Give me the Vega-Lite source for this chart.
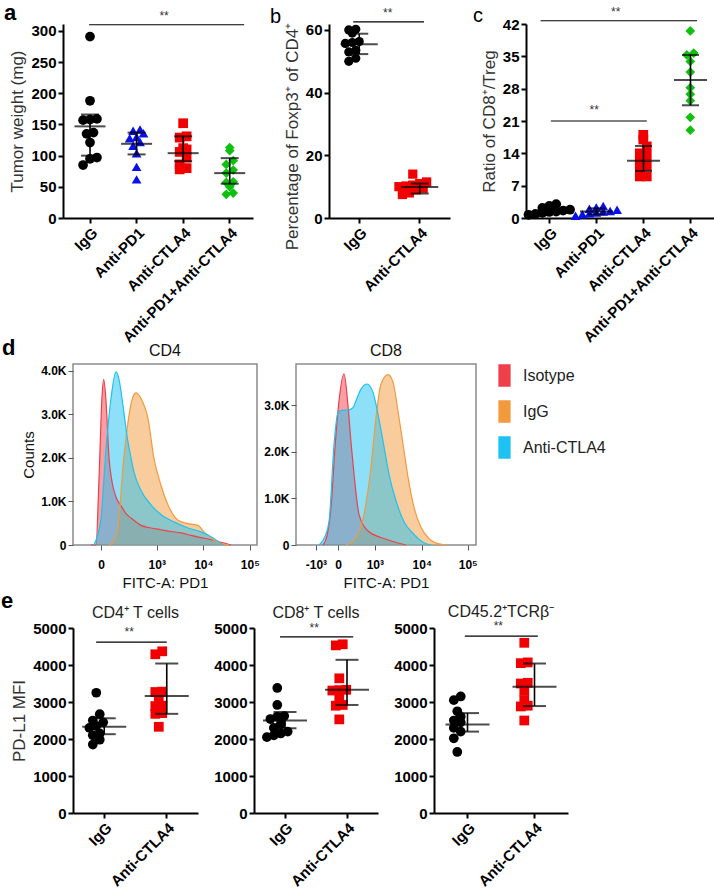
{
 "$schema": "https://vega.github.io/schema/vega-lite/v6.json",
 "padding": {"left": 1, "top": 2, "right": 0, "bottom": 0},
 "background": "white",
 "datasets": {
  "dots": [
   {"panel":"a","group":"IgG","value":291},{"panel":"a","group":"IgG","value":188},{"panel":"a","group":"IgG","value":159},{"panel":"a","group":"IgG","value":158},{"panel":"a","group":"IgG","value":157},{"panel":"a","group":"IgG","value":137},{"panel":"a","group":"IgG","value":135},{"panel":"a","group":"IgG","value":121},{"panel":"a","group":"IgG","value":97},{"panel":"a","group":"IgG","value":95},{"panel":"a","group":"IgG","value":85},
   {"panel":"a","group":"Anti-PD1","value":142},{"panel":"a","group":"Anti-PD1","value":140},{"panel":"a","group":"Anti-PD1","value":136},{"panel":"a","group":"Anti-PD1","value":130},{"panel":"a","group":"Anti-PD1","value":128},{"panel":"a","group":"Anti-PD1","value":122},{"panel":"a","group":"Anti-PD1","value":116},{"panel":"a","group":"Anti-PD1","value":104},{"panel":"a","group":"Anti-PD1","value":82},{"panel":"a","group":"Anti-PD1","value":62},
   {"panel":"a","group":"Anti-CTLA4","value":152},{"panel":"a","group":"Anti-CTLA4","value":131},{"panel":"a","group":"Anti-CTLA4","value":129},{"panel":"a","group":"Anti-CTLA4","value":112},{"panel":"a","group":"Anti-CTLA4","value":110},{"panel":"a","group":"Anti-CTLA4","value":106},{"panel":"a","group":"Anti-CTLA4","value":97},{"panel":"a","group":"Anti-CTLA4","value":86},{"panel":"a","group":"Anti-CTLA4","value":80},{"panel":"a","group":"Anti-CTLA4","value":78},
   {"panel":"a","group":"Anti-PD1+Anti-CTLA4","value":113},{"panel":"a","group":"Anti-PD1+Anti-CTLA4","value":108},{"panel":"a","group":"Anti-PD1+Anti-CTLA4","value":92},{"panel":"a","group":"Anti-PD1+Anti-CTLA4","value":86},{"panel":"a","group":"Anti-PD1+Anti-CTLA4","value":77},{"panel":"a","group":"Anti-PD1+Anti-CTLA4","value":72},{"panel":"a","group":"Anti-PD1+Anti-CTLA4","value":58},{"panel":"a","group":"Anti-PD1+Anti-CTLA4","value":57},{"panel":"a","group":"Anti-PD1+Anti-CTLA4","value":50},{"panel":"a","group":"Anti-PD1+Anti-CTLA4","value":40},{"panel":"a","group":"Anti-PD1+Anti-CTLA4","value":38},
   {"panel":"b","group":"IgG","value":60.2},{"panel":"b","group":"IgG","value":60},{"panel":"b","group":"IgG","value":59},{"panel":"b","group":"IgG","value":56.3},{"panel":"b","group":"IgG","value":56},{"panel":"b","group":"IgG","value":55.7},{"panel":"b","group":"IgG","value":53.5},{"panel":"b","group":"IgG","value":53},{"panel":"b","group":"IgG","value":51},{"panel":"b","group":"IgG","value":50},
   {"panel":"b","group":"Anti-CTLA4","value":14},{"panel":"b","group":"Anti-CTLA4","value":11.5},{"panel":"b","group":"Anti-CTLA4","value":11},{"panel":"b","group":"Anti-CTLA4","value":10.5},{"panel":"b","group":"Anti-CTLA4","value":10.2},{"panel":"b","group":"Anti-CTLA4","value":10},{"panel":"b","group":"Anti-CTLA4","value":9.5},{"panel":"b","group":"Anti-CTLA4","value":9},{"panel":"b","group":"Anti-CTLA4","value":8},{"panel":"b","group":"Anti-CTLA4","value":7.5},
   {"panel":"c","group":"IgG","value":3},{"panel":"c","group":"IgG","value":2.6},{"panel":"c","group":"IgG","value":2.2},{"panel":"c","group":"IgG","value":1.8},{"panel":"c","group":"IgG","value":1.6},{"panel":"c","group":"IgG","value":1.4},{"panel":"c","group":"IgG","value":1.3},{"panel":"c","group":"IgG","value":1.1},{"panel":"c","group":"IgG","value":0.9},{"panel":"c","group":"IgG","value":0.7},
   {"panel":"c","group":"Anti-PD1","value":2.6},{"panel":"c","group":"Anti-PD1","value":2.3},{"panel":"c","group":"Anti-PD1","value":2.0},{"panel":"c","group":"Anti-PD1","value":1.8},{"panel":"c","group":"Anti-PD1","value":1.5},{"panel":"c","group":"Anti-PD1","value":1.4},{"panel":"c","group":"Anti-PD1","value":1.2},{"panel":"c","group":"Anti-PD1","value":1.0},{"panel":"c","group":"Anti-PD1","value":0.8},{"panel":"c","group":"Anti-PD1","value":0.5},
   {"panel":"c","group":"Anti-CTLA4","value":18},{"panel":"c","group":"Anti-CTLA4","value":17},{"panel":"c","group":"Anti-CTLA4","value":15.5},{"panel":"c","group":"Anti-CTLA4","value":14},{"panel":"c","group":"Anti-CTLA4","value":13.5},{"panel":"c","group":"Anti-CTLA4","value":12.5},{"panel":"c","group":"Anti-CTLA4","value":11.3},{"panel":"c","group":"Anti-CTLA4","value":11},{"panel":"c","group":"Anti-CTLA4","value":9},{"panel":"c","group":"Anti-CTLA4","value":9},
   {"panel":"c","group":"Anti-PD1+Anti-CTLA4","value":40.5},{"panel":"c","group":"Anti-PD1+Anti-CTLA4","value":35.7},{"panel":"c","group":"Anti-PD1+Anti-CTLA4","value":35.3},{"panel":"c","group":"Anti-PD1+Anti-CTLA4","value":33.9},{"panel":"c","group":"Anti-PD1+Anti-CTLA4","value":31.6},{"panel":"c","group":"Anti-PD1+Anti-CTLA4","value":28.2},{"panel":"c","group":"Anti-PD1+Anti-CTLA4","value":26.8},{"panel":"c","group":"Anti-PD1+Anti-CTLA4","value":25.4},{"panel":"c","group":"Anti-PD1+Anti-CTLA4","value":21.8},{"panel":"c","group":"Anti-PD1+Anti-CTLA4","value":19},
   {"panel":"e1","group":"IgG","value":3250},{"panel":"e1","group":"IgG","value":2670},{"panel":"e1","group":"IgG","value":2500},{"panel":"e1","group":"IgG","value":2450},{"panel":"e1","group":"IgG","value":2350},{"panel":"e1","group":"IgG","value":2300},{"panel":"e1","group":"IgG","value":2150},{"panel":"e1","group":"IgG","value":2100},{"panel":"e1","group":"IgG","value":1980},{"panel":"e1","group":"IgG","value":1850},
   {"panel":"e1","group":"Anti-CTLA4","value":4370},{"panel":"e1","group":"Anti-CTLA4","value":4290},{"panel":"e1","group":"Anti-CTLA4","value":3280},{"panel":"e1","group":"Anti-CTLA4","value":3270},{"panel":"e1","group":"Anti-CTLA4","value":3060},{"panel":"e1","group":"Anti-CTLA4","value":2900},{"panel":"e1","group":"Anti-CTLA4","value":2890},{"panel":"e1","group":"Anti-CTLA4","value":2700},{"panel":"e1","group":"Anti-CTLA4","value":2680},{"panel":"e1","group":"Anti-CTLA4","value":2330},
   {"panel":"e2","group":"IgG","value":3380},{"panel":"e2","group":"IgG","value":2920},{"panel":"e2","group":"IgG","value":2620},{"panel":"e2","group":"IgG","value":2600},{"panel":"e2","group":"IgG","value":2540},{"panel":"e2","group":"IgG","value":2400},{"panel":"e2","group":"IgG","value":2300},{"panel":"e2","group":"IgG","value":2200},{"panel":"e2","group":"IgG","value":2150},{"panel":"e2","group":"IgG","value":2100},{"panel":"e2","group":"IgG","value":2050},
   {"panel":"e2","group":"Anti-CTLA4","value":4560},{"panel":"e2","group":"Anti-CTLA4","value":4530},{"panel":"e2","group":"Anti-CTLA4","value":3640},{"panel":"e2","group":"Anti-CTLA4","value":3330},{"panel":"e2","group":"Anti-CTLA4","value":3320},{"panel":"e2","group":"Anti-CTLA4","value":3310},{"panel":"e2","group":"Anti-CTLA4","value":3080},{"panel":"e2","group":"Anti-CTLA4","value":2920},{"panel":"e2","group":"Anti-CTLA4","value":2900},{"panel":"e2","group":"Anti-CTLA4","value":2530},
   {"panel":"e3","group":"IgG","value":3150},{"panel":"e3","group":"IgG","value":3050},{"panel":"e3","group":"IgG","value":2750},{"panel":"e3","group":"IgG","value":2600},{"panel":"e3","group":"IgG","value":2500},{"panel":"e3","group":"IgG","value":2450},{"panel":"e3","group":"IgG","value":2300},{"panel":"e3","group":"IgG","value":2200},{"panel":"e3","group":"IgG","value":2020},{"panel":"e3","group":"IgG","value":1650},
   {"panel":"e3","group":"Anti-CTLA4","value":4600},{"panel":"e3","group":"Anti-CTLA4","value":4070},{"panel":"e3","group":"Anti-CTLA4","value":4050},{"panel":"e3","group":"Anti-CTLA4","value":3520},{"panel":"e3","group":"Anti-CTLA4","value":3500},{"panel":"e3","group":"Anti-CTLA4","value":3300},{"panel":"e3","group":"Anti-CTLA4","value":3050},{"panel":"e3","group":"Anti-CTLA4","value":2900},{"panel":"e3","group":"Anti-CTLA4","value":2880},{"panel":"e3","group":"Anti-CTLA4","value":2500}
  ],
  "bars": [
   {"panel":"a","group":"IgG","mean":147,"lo":100,"hi":166},{"panel":"a","group":"Anti-PD1","mean":119,"lo":102,"hi":137},{"panel":"a","group":"Anti-CTLA4","mean":104,"lo":91,"hi":131},{"panel":"a","group":"Anti-PD1+Anti-CTLA4","mean":72,"lo":55,"hi":96},
   {"panel":"b","group":"IgG","mean":55.4,"lo":52.3,"hi":58.8},{"panel":"b","group":"Anti-CTLA4","mean":9.9,"lo":7.8,"hi":11},
   {"panel":"c","group":"IgG","mean":1.5,"lo":1,"hi":2},{"panel":"c","group":"Anti-PD1","mean":1.4,"lo":0.8,"hi":2.1},{"panel":"c","group":"Anti-CTLA4","mean":12.4,"lo":10.2,"hi":15.6},{"panel":"c","group":"Anti-PD1+Anti-CTLA4","mean":29.9,"lo":24.4,"hi":35.3},
   {"panel":"e1","group":"IgG","mean":2330,"lo":2130,"hi":2560},{"panel":"e1","group":"Anti-CTLA4","mean":3160,"lo":2680,"hi":4040},
   {"panel":"e2","group":"IgG","mean":2500,"lo":2290,"hi":2730},{"panel":"e2","group":"Anti-CTLA4","mean":3330,"lo":2920,"hi":4140},
   {"panel":"e3","group":"IgG","mean":2390,"lo":2200,"hi":2700},{"panel":"e3","group":"Anti-CTLA4","mean":3410,"lo":2890,"hi":4040}
  ],
  "hist": [
   {"panel":"CD4","sample":"Isotype","u":-0.215,"count":0},{"panel":"CD4","sample":"Isotype","u":-0.108,"count":0},{"panel":"CD4","sample":"Isotype","u":-0.043,"count":1500},{"panel":"CD4","sample":"Isotype","u":0.022,"count":3400},{"panel":"CD4","sample":"Isotype","u":0.058,"count":3800},{"panel":"CD4","sample":"Isotype","u":0.108,"count":3300},{"panel":"CD4","sample":"Isotype","u":0.172,"count":2000},{"panel":"CD4","sample":"Isotype","u":0.237,"count":1450},{"panel":"CD4","sample":"Isotype","u":0.323,"count":1100},{"panel":"CD4","sample":"Isotype","u":0.43,"count":900},{"panel":"CD4","sample":"Isotype","u":0.538,"count":720},{"panel":"CD4","sample":"Isotype","u":0.645,"count":620},{"panel":"CD4","sample":"Isotype","u":0.86,"count":450},{"panel":"CD4","sample":"Isotype","u":1.075,"count":390},{"panel":"CD4","sample":"Isotype","u":1.29,"count":350},{"panel":"CD4","sample":"Isotype","u":1.505,"count":310},{"panel":"CD4","sample":"Isotype","u":1.72,"count":280},{"panel":"CD4","sample":"Isotype","u":1.935,"count":220},{"panel":"CD4","sample":"Isotype","u":2.151,"count":170},{"panel":"CD4","sample":"Isotype","u":2.366,"count":120},{"panel":"CD4","sample":"Isotype","u":2.581,"count":60},{"panel":"CD4","sample":"Isotype","u":2.796,"count":0},
   {"panel":"CD4","sample":"IgG","u":0.172,"count":0},{"panel":"CD4","sample":"IgG","u":0.28,"count":100},{"panel":"CD4","sample":"IgG","u":0.366,"count":400},{"panel":"CD4","sample":"IgG","u":0.473,"count":1800},{"panel":"CD4","sample":"IgG","u":0.581,"count":2820},{"panel":"CD4","sample":"IgG","u":0.688,"count":3400},{"panel":"CD4","sample":"IgG","u":0.753,"count":3490},{"panel":"CD4","sample":"IgG","u":0.86,"count":3360},{"panel":"CD4","sample":"IgG","u":1.011,"count":2900},{"panel":"CD4","sample":"IgG","u":1.14,"count":1980},{"panel":"CD4","sample":"IgG","u":1.29,"count":1370},{"panel":"CD4","sample":"IgG","u":1.441,"count":920},{"panel":"CD4","sample":"IgG","u":1.656,"count":570},{"panel":"CD4","sample":"IgG","u":1.871,"count":490},{"panel":"CD4","sample":"IgG","u":2.086,"count":450},{"panel":"CD4","sample":"IgG","u":2.215,"count":300},{"panel":"CD4","sample":"IgG","u":2.43,"count":110},{"panel":"CD4","sample":"IgG","u":2.645,"count":20},{"panel":"CD4","sample":"IgG","u":2.753,"count":0},
   {"panel":"CD4","sample":"Anti-CTLA4","u":-0.151,"count":0},{"panel":"CD4","sample":"Anti-CTLA4","u":-0.065,"count":250},{"panel":"CD4","sample":"Anti-CTLA4","u":0,"count":600},{"panel":"CD4","sample":"Anti-CTLA4","u":0.108,"count":2200},{"panel":"CD4","sample":"Anti-CTLA4","u":0.215,"count":3360},{"panel":"CD4","sample":"Anti-CTLA4","u":0.323,"count":3970},{"panel":"CD4","sample":"Anti-CTLA4","u":0.387,"count":3800},{"panel":"CD4","sample":"Anti-CTLA4","u":0.473,"count":3200},{"panel":"CD4","sample":"Anti-CTLA4","u":0.559,"count":2500},{"panel":"CD4","sample":"Anti-CTLA4","u":0.645,"count":2000},{"panel":"CD4","sample":"Anti-CTLA4","u":0.71,"count":1670},{"panel":"CD4","sample":"Anti-CTLA4","u":0.86,"count":1250},{"panel":"CD4","sample":"Anti-CTLA4","u":1.075,"count":920},{"panel":"CD4","sample":"Anti-CTLA4","u":1.29,"count":700},{"panel":"CD4","sample":"Anti-CTLA4","u":1.57,"count":530},{"panel":"CD4","sample":"Anti-CTLA4","u":1.849,"count":400},{"panel":"CD4","sample":"Anti-CTLA4","u":2.151,"count":300},{"panel":"CD4","sample":"Anti-CTLA4","u":2.43,"count":150},{"panel":"CD4","sample":"Anti-CTLA4","u":2.624,"count":0},
   {"panel":"CD8","sample":"Isotype","u":-0.326,"count":0},{"panel":"CD8","sample":"Isotype","u":-0.239,"count":200},{"panel":"CD8","sample":"Isotype","u":-0.152,"count":800},{"panel":"CD8","sample":"Isotype","u":-0.065,"count":2100},{"panel":"CD8","sample":"Isotype","u":0.022,"count":3100},{"panel":"CD8","sample":"Isotype","u":0.13,"count":3680},{"panel":"CD8","sample":"Isotype","u":0.217,"count":3000},{"panel":"CD8","sample":"Isotype","u":0.283,"count":2200},{"panel":"CD8","sample":"Isotype","u":0.348,"count":1520},{"panel":"CD8","sample":"Isotype","u":0.457,"count":660},{"panel":"CD8","sample":"Isotype","u":0.652,"count":300},{"panel":"CD8","sample":"Isotype","u":0.935,"count":160},{"panel":"CD8","sample":"Isotype","u":1.217,"count":70},{"panel":"CD8","sample":"Isotype","u":1.478,"count":0},
   {"panel":"CD8","sample":"IgG","u":0.174,"count":0},{"panel":"CD8","sample":"IgG","u":0.391,"count":150},{"panel":"CD8","sample":"IgG","u":0.565,"count":660},{"panel":"CD8","sample":"IgG","u":0.717,"count":1670},{"panel":"CD8","sample":"IgG","u":0.826,"count":2740},{"panel":"CD8","sample":"IgG","u":0.935,"count":3460},{"panel":"CD8","sample":"IgG","u":1.087,"count":3660},{"panel":"CD8","sample":"IgG","u":1.196,"count":3500},{"panel":"CD8","sample":"IgG","u":1.304,"count":2880},{"panel":"CD8","sample":"IgG","u":1.413,"count":2170},{"panel":"CD8","sample":"IgG","u":1.522,"count":1460},{"panel":"CD8","sample":"IgG","u":1.652,"count":810},{"panel":"CD8","sample":"IgG","u":1.804,"count":380},{"panel":"CD8","sample":"IgG","u":1.957,"count":160},{"panel":"CD8","sample":"IgG","u":2.174,"count":30},{"panel":"CD8","sample":"IgG","u":2.348,"count":0},
   {"panel":"CD8","sample":"Anti-CTLA4","u":-0.413,"count":0},{"panel":"CD8","sample":"Anti-CTLA4","u":-0.326,"count":100},{"panel":"CD8","sample":"Anti-CTLA4","u":-0.196,"count":500},{"panel":"CD8","sample":"Anti-CTLA4","u":-0.087,"count":2150},{"panel":"CD8","sample":"Anti-CTLA4","u":0,"count":2850},{"panel":"CD8","sample":"Anti-CTLA4","u":0.109,"count":2900},{"panel":"CD8","sample":"Anti-CTLA4","u":0.217,"count":2900},{"panel":"CD8","sample":"Anti-CTLA4","u":0.326,"count":2950},{"panel":"CD8","sample":"Anti-CTLA4","u":0.391,"count":3100},{"panel":"CD8","sample":"Anti-CTLA4","u":0.5,"count":3350},{"panel":"CD8","sample":"Anti-CTLA4","u":0.63,"count":3460},{"panel":"CD8","sample":"Anti-CTLA4","u":0.761,"count":3280},{"panel":"CD8","sample":"Anti-CTLA4","u":0.87,"count":2810},{"panel":"CD8","sample":"Anti-CTLA4","u":0.978,"count":2240},{"panel":"CD8","sample":"Anti-CTLA4","u":1.109,"count":1520},{"panel":"CD8","sample":"Anti-CTLA4","u":1.261,"count":950},{"panel":"CD8","sample":"Anti-CTLA4","u":1.435,"count":500},{"panel":"CD8","sample":"Anti-CTLA4","u":1.652,"count":230},{"panel":"CD8","sample":"Anti-CTLA4","u":1.87,"count":50},{"panel":"CD8","sample":"Anti-CTLA4","u":2.022,"count":0}
  ]
 },
 "vconcat": [
  {
   "vconcat": [
    {
     "hconcat": [
      {
       "width": 190, "height": 194,
       "title": {"text": "a", "anchor": "start", "frame": "group", "dx": -59, "dy": 19, "offset": 4, "fontSize": 22, "fontWeight": "bold", "color": "#000"},
       "layer": [
        {
         "data": {"name": "dots"},
         "transform": [
          {"filter": "datum.panel == 'a'"},
          {"bin": {"step": 14, "anchor": 0}, "field": "value", "as": "vb"},
          {"window": [{"op": "row_number", "as": "r"}], "groupby": ["group", "vb"], "sort": [{"field": "value"}]},
          {"joinaggregate": [{"op": "count", "as": "n"}], "groupby": ["group", "vb"]},
          {"calculate": "datum.r - (datum.n + 1) / 2", "as": "off"}
         ],
         "mark": {"type": "point", "filled": true, "size": 95, "opacity": 1},
         "encoding": {
          "x": {"field": "group", "type": "nominal", "sort": ["IgG","Anti-PD1","Anti-CTLA4","Anti-PD1+Anti-CTLA4"], "scale": {"domain": ["IgG","Anti-PD1","Anti-CTLA4","Anti-PD1+Anti-CTLA4"], "paddingInner": 0, "paddingOuter": 0.04, "align": 1}, "axis": {"title": null, "labelAngle": -45, "labelAlign": "right", "labelBaseline": "top"}},
          "xOffset": {"field": "off", "type": "quantitative", "scale": {"domain": [-2.33, 2.33]}},
          "y": {"field": "value", "type": "quantitative", "scale": {"domain": [0, 311.2], "nice": false}, "axis": {"values": [0,50,100,150,200,250,300], "title": "Tumor weight (mg)", "labelOverlap": false}},
          "color": {"field": "group", "type": "nominal", "scale": {"domain": ["IgG","Anti-PD1","Anti-CTLA4","Anti-PD1+Anti-CTLA4"], "range": ["#000000","#0a10e8","#f00000","#10c010"]}, "legend": null},
          "shape": {"field": "group", "type": "nominal", "scale": {"domain": ["IgG","Anti-PD1","Anti-CTLA4","Anti-PD1+Anti-CTLA4"], "range": ["circle","triangle-up","square","diamond"]}, "legend": null}
         }
        },
        {"data": {"name": "bars"}, "transform": [{"filter": "datum.panel == 'a'"}], "mark": {"type": "rule", "color": "#000", "strokeWidth": 1.6}, "encoding": {"x": {"field": "group", "type": "nominal"}, "y": {"field": "lo", "type": "quantitative", "axis": {"values": [0,50,100,150,200,250,300], "title": "Tumor weight (mg)", "labelOverlap": false}}, "y2": {"field": "hi"}}},
        {"data": {"name": "bars"}, "transform": [{"filter": "datum.panel == 'a'"}], "mark": {"type": "tick", "color": "#000", "thickness": 2, "size": 31}, "encoding": {"x": {"field": "group", "type": "nominal"}, "y": {"field": "mean", "type": "quantitative", "axis": {"values": [0,50,100,150,200,250,300], "title": "Tumor weight (mg)", "labelOverlap": false}}}},
        {"data": {"name": "bars"}, "transform": [{"filter": "datum.panel == 'a'"}, {"fold": ["lo", "hi"], "as": ["end", "level"]}], "mark": {"type": "tick", "color": "#000", "thickness": 2, "size": 18}, "encoding": {"x": {"field": "group", "type": "nominal"}, "y": {"field": "level", "type": "quantitative", "axis": {"values": [0,50,100,150,200,250,300], "title": "Tumor weight (mg)", "labelOverlap": false}}}},
        {"data": {"values": [{}]}, "mark": {"type": "rule", "color": "#000", "strokeWidth": 1.2}, "encoding": {"x": {"datum": "IgG", "type": "nominal", "bandPosition": 0.48}, "x2": {"datum": "Anti-PD1+Anti-CTLA4", "bandPosition": 0.81}, "y": {"datum": 310, "type": "quantitative", "axis": {"values": [0,50,100,150,200,250,300], "title": "Tumor weight (mg)", "labelOverlap": false}}}},
        {"data": {"values": [{}]}, "mark": {"type": "text", "text": "**", "fontSize": 12, "color": "#333", "align": "center", "baseline": "middle"}, "encoding": {"x": {"datum": "Anti-CTLA4", "type": "nominal", "bandPosition": 0.09}, "y": {"datum": 324, "type": "quantitative", "axis": {"values": [0,50,100,150,200,250,300], "title": "Tumor weight (mg)", "labelOverlap": false}}}}
       ]
      },
      {
       "width": 121, "height": 194,
       "title": {"text": "b", "anchor": "start", "frame": "group", "dx": -59, "dy": 24, "offset": 4, "fontSize": 20, "fontWeight": "normal", "color": "#000"},
       "layer": [
        {
         "data": {"name": "dots"},
         "transform": [
          {"filter": "datum.panel == 'b'"},
          {"bin": {"step": 2.5, "anchor": 0}, "field": "value", "as": "vb"},
          {"window": [{"op": "row_number", "as": "r"}], "groupby": ["group", "vb"], "sort": [{"field": "value"}]},
          {"joinaggregate": [{"op": "count", "as": "n"}], "groupby": ["group", "vb"]},
          {"calculate": "datum.r - (datum.n + 1) / 2", "as": "off"}
         ],
         "mark": {"type": "point", "filled": true, "size": 85, "opacity": 1},
         "encoding": {
          "x": {"field": "group", "type": "nominal", "sort": ["IgG","Anti-CTLA4"], "scale": {"domain": ["IgG","Anti-CTLA4"], "paddingInner": 0, "paddingOuter": 0}, "axis": {"title": null, "labelAngle": -45, "labelAlign": "right", "labelBaseline": "top"}},
          "xOffset": {"field": "off", "type": "quantitative", "scale": {"domain": [-3.36, 3.36]}},
          "y": {"field": "value", "type": "quantitative", "scale": {"domain": [0, 61.9], "nice": false}, "axis": {"values": [0,20,40,60], "title": "Percentage of Foxp3⁺ of CD4⁺", "titleY": 112, "labelOverlap": false}},
          "color": {"field": "group", "type": "nominal", "scale": {"domain": ["IgG","Anti-PD1","Anti-CTLA4","Anti-PD1+Anti-CTLA4"], "range": ["#000000","#0a10e8","#f00000","#10c010"]}, "legend": null},
          "shape": {"field": "group", "type": "nominal", "scale": {"domain": ["IgG","Anti-PD1","Anti-CTLA4","Anti-PD1+Anti-CTLA4"], "range": ["circle","triangle-up","square","diamond"]}, "legend": null}
         }
        },
        {"data": {"name": "bars"}, "transform": [{"filter": "datum.panel == 'b'"}], "mark": {"type": "rule", "color": "#000", "strokeWidth": 1.6}, "encoding": {"x": {"field": "group", "type": "nominal"}, "y": {"field": "lo", "type": "quantitative", "axis": {"values": [0,20,40,60], "title": "Percentage of Foxp3⁺ of CD4⁺", "titleY": 112, "labelOverlap": false}}, "y2": {"field": "hi"}}},
        {"data": {"name": "bars"}, "transform": [{"filter": "datum.panel == 'b'"}], "mark": {"type": "tick", "color": "#000", "thickness": 2, "size": 37}, "encoding": {"x": {"field": "group", "type": "nominal"}, "y": {"field": "mean", "type": "quantitative", "axis": {"values": [0,20,40,60], "title": "Percentage of Foxp3⁺ of CD4⁺", "titleY": 112, "labelOverlap": false}}}},
        {"data": {"name": "bars"}, "transform": [{"filter": "datum.panel == 'b'"}, {"fold": ["lo", "hi"], "as": ["end", "level"]}], "mark": {"type": "tick", "color": "#000", "thickness": 2, "size": 18}, "encoding": {"x": {"field": "group", "type": "nominal"}, "y": {"field": "level", "type": "quantitative", "axis": {"values": [0,20,40,60], "title": "Percentage of Foxp3⁺ of CD4⁺", "titleY": 112, "labelOverlap": false}}}},
        {"data": {"values": [{}]}, "mark": {"type": "rule", "color": "#000", "strokeWidth": 1.2}, "encoding": {"x": {"datum": "IgG", "type": "nominal", "bandPosition": 0.4}, "x2": {"datum": "Anti-CTLA4", "bandPosition": 0.57}, "y": {"datum": 62.6, "type": "quantitative", "axis": {"values": [0,20,40,60], "title": "Percentage of Foxp3⁺ of CD4⁺", "titleY": 112, "labelOverlap": false}}}},
        {"data": {"values": [{}]}, "mark": {"type": "text", "text": "**", "fontSize": 12, "color": "#333", "align": "center", "baseline": "middle"}, "encoding": {"x": {"datum": "IgG", "type": "nominal", "bandPosition": 0.97}, "y": {"datum": 65.5, "type": "quantitative", "axis": {"values": [0,20,40,60], "title": "Percentage of Foxp3⁺ of CD4⁺", "titleY": 112, "labelOverlap": false}}}}
       ]
      },
      {
       "width": 188, "height": 194,
       "title": {"text": "c", "anchor": "start", "frame": "group", "dx": -53, "dy": 24, "offset": 4, "fontSize": 20, "fontWeight": "normal", "color": "#000"},
       "layer": [
        {
         "data": {"name": "dots"},
         "transform": [
          {"filter": "datum.panel == 'c'"},
          {"bin": {"step": 2, "anchor": 0}, "field": "value", "as": "vb"},
          {"window": [{"op": "row_number", "as": "r"}], "groupby": ["group", "vb"], "sort": [{"field": "value"}]},
          {"joinaggregate": [{"op": "count", "as": "n"}], "groupby": ["group", "vb"]},
          {"calculate": "datum.r - (datum.n + 1) / 2", "as": "off"}
         ],
         "mark": {"type": "point", "filled": true, "size": 95, "opacity": 1},
         "encoding": {
          "x": {"field": "group", "type": "nominal", "sort": ["IgG","Anti-PD1","Anti-CTLA4","Anti-PD1+Anti-CTLA4"], "scale": {"domain": ["IgG","Anti-PD1","Anti-CTLA4","Anti-PD1+Anti-CTLA4"], "paddingInner": 0, "paddingOuter": 0}, "axis": {"title": null, "labelAngle": -45, "labelAlign": "right", "labelBaseline": "top"}},
          "xOffset": {"field": "off", "type": "quantitative", "scale": {"domain": [-2.35, 2.35]}},
          "y": {"field": "value", "type": "quantitative", "scale": {"domain": [0, 42], "nice": false}, "axis": {"values": [0,7,14,21,28,35,42], "title": "Ratio of CD8⁺/Treg", "labelOverlap": false}},
          "color": {"field": "group", "type": "nominal", "scale": {"domain": ["IgG","Anti-PD1","Anti-CTLA4","Anti-PD1+Anti-CTLA4"], "range": ["#000000","#0a10e8","#f00000","#10c010"]}, "legend": null},
          "shape": {"field": "group", "type": "nominal", "scale": {"domain": ["IgG","Anti-PD1","Anti-CTLA4","Anti-PD1+Anti-CTLA4"], "range": ["circle","triangle-up","square","diamond"]}, "legend": null}
         }
        },
        {"data": {"name": "bars"}, "transform": [{"filter": "datum.panel == 'c'"}], "mark": {"type": "rule", "color": "#000", "strokeWidth": 1.6}, "encoding": {"x": {"field": "group", "type": "nominal"}, "y": {"field": "lo", "type": "quantitative", "axis": {"values": [0,7,14,21,28,35,42], "title": "Ratio of CD8⁺/Treg", "labelOverlap": false}}, "y2": {"field": "hi"}}},
        {"data": {"name": "bars"}, "transform": [{"filter": "datum.panel == 'c'"}], "mark": {"type": "tick", "color": "#000", "thickness": 2, "size": 33}, "encoding": {"x": {"field": "group", "type": "nominal"}, "y": {"field": "mean", "type": "quantitative", "axis": {"values": [0,7,14,21,28,35,42], "title": "Ratio of CD8⁺/Treg", "labelOverlap": false}}}},
        {"data": {"name": "bars"}, "transform": [{"filter": "datum.panel == 'c'"}, {"fold": ["lo", "hi"], "as": ["end", "level"]}], "mark": {"type": "tick", "color": "#000", "thickness": 2, "size": 17}, "encoding": {"x": {"field": "group", "type": "nominal"}, "y": {"field": "level", "type": "quantitative", "axis": {"values": [0,7,14,21,28,35,42], "title": "Ratio of CD8⁺/Treg", "labelOverlap": false}}}},
        {"data": {"values": [{}]}, "mark": {"type": "rule", "color": "#000", "strokeWidth": 1.2}, "encoding": {"x": {"datum": "IgG", "type": "nominal", "bandPosition": 0.31}, "x2": {"datum": "Anti-PD1+Anti-CTLA4", "bandPosition": 0.64}, "y": {"datum": 42.7, "type": "quantitative", "axis": {"values": [0,7,14,21,28,35,42], "title": "Ratio of CD8⁺/Treg", "labelOverlap": false}}}},
        {"data": {"values": [{}]}, "mark": {"type": "text", "text": "**", "fontSize": 12, "color": "#333", "align": "center", "baseline": "middle"}, "encoding": {"x": {"datum": "Anti-PD1", "type": "nominal", "bandPosition": 0.91}, "y": {"datum": 44.6, "type": "quantitative", "axis": {"values": [0,7,14,21,28,35,42], "title": "Ratio of CD8⁺/Treg", "labelOverlap": false}}}},
        {"data": {"values": [{}]}, "mark": {"type": "rule", "color": "#000", "strokeWidth": 1.2}, "encoding": {"x": {"datum": "IgG", "type": "nominal", "bandPosition": 0.53}, "x2": {"datum": "Anti-CTLA4", "bandPosition": 0.57}, "y": {"datum": 21, "type": "quantitative", "axis": {"values": [0,7,14,21,28,35,42], "title": "Ratio of CD8⁺/Treg", "labelOverlap": false}}}},
        {"data": {"values": [{}]}, "mark": {"type": "text", "text": "**", "fontSize": 12, "color": "#333", "align": "center", "baseline": "middle"}, "encoding": {"x": {"datum": "Anti-PD1", "type": "nominal", "bandPosition": 0.45}, "y": {"datum": 23.4, "type": "quantitative", "axis": {"values": [0,7,14,21,28,35,42], "title": "Ratio of CD8⁺/Treg", "labelOverlap": false}}}}
       ]
      }
     ],
     "spacing": 76, "bounds": "flush"
    },
    {
     "hconcat": [
      {"width": 10, "height": 181, "data": {"values": []}, "mark": "point", "encoding": {}},
      {
       "width": 184, "height": 181,
       "title": {"text": "CD4", "fontSize": 16, "fontWeight": "normal", "color": "#111", "offset": 5},
       "view": {"stroke": "#8c8c8c", "strokeWidth": 1.5},
       "data": {"name": "hist"},
       "transform": [{"filter": "datum.panel == 'CD4'"}],
       "mark": {"type": "area", "fillOpacity": 0.5, "interpolate": "monotone", "line": {"strokeWidth": 1.2}},
       "encoding": {
        "x": {"field": "u", "type": "quantitative", "scale": {"domain": [-0.602, 3.355], "nice": false, "zero": false}, "axis": {"values": [0, 1.2, 2.2, 3.2], "labelExpr": "datum.value < 0.5 ? '0' : datum.value < 1.7 ? '10³' : datum.value < 2.7 ? '10⁴' : '10⁵'", "domain": false, "tickColor": "#555", "tickWidth": 1, "tickSize": 5, "labelFontSize": 12, "labelAngle": 0, "labelAlign": "center", "labelBaseline": "top", "labelPadding": 9, "title": "FITC-A:  PD1", "titleFontSize": 15, "titleColor": "#111", "titlePadding": 5}},
        "y": {"field": "count", "type": "quantitative", "stack": null, "scale": {"domain": [0, 4150], "nice": false}, "axis": {"values": [0,1000,2000,3000,4000], "labelExpr": "datum.value == 0 ? '0' : format(datum.value / 1000, '.1f') + 'K'", "domain": false, "tickColor": "#555", "tickWidth": 1, "tickSize": 5, "labelFontSize": 12, "title": "Counts", "titleFontSize": 15, "titleColor": "#111", "labelOverlap": false}},
        "color": {"field": "sample", "type": "nominal", "scale": {"domain": ["Isotype","IgG","Anti-CTLA4"], "range": ["#ef3f4a","#f39a3e","#1ec2f2"]}, "legend": null}
       }
      },
      {"width": 39, "height": 181, "data": {"values": []}, "mark": "point", "encoding": {}},
      {
       "width": 180, "height": 181,
       "title": {"text": "CD8", "fontSize": 16, "fontWeight": "normal", "color": "#111", "offset": 5},
       "view": {"stroke": "#8c8c8c", "strokeWidth": 1.5},
       "data": {"name": "hist"},
       "transform": [{"filter": "datum.panel == 'CD8'"}],
       "mark": {"type": "area", "fillOpacity": 0.5, "interpolate": "monotone", "line": {"strokeWidth": 1.2}},
       "encoding": {
        "x": {"field": "u", "type": "quantitative", "scale": {"domain": [-0.913, 3.0], "nice": false, "zero": false}, "axis": {"values": [-0.48, 0, 0.8, 1.82, 2.82], "labelExpr": "datum.value < -0.2 ? '-10³' : datum.value < 0.4 ? '0' : datum.value < 1.3 ? '10³' : datum.value < 2.3 ? '10⁴' : '10⁵'", "domain": false, "tickColor": "#555", "tickWidth": 1, "tickSize": 5, "labelFontSize": 12, "labelAngle": 0, "labelAlign": "center", "labelBaseline": "top", "labelPadding": 9, "title": "FITC-A:  PD1", "titleFontSize": 15, "titleColor": "#111", "titlePadding": 5, "labelOverlap": false}},
        "y": {"field": "count", "type": "quantitative", "stack": null, "scale": {"domain": [0, 3890], "nice": false}, "axis": {"values": [0,1000,2000,3000], "labelExpr": "datum.value == 0 ? '0' : format(datum.value / 1000, '.1f') + 'K'", "domain": false, "tickColor": "#555", "tickWidth": 1, "tickSize": 5, "labelFontSize": 12, "title": null, "labelOverlap": false}},
        "color": {"field": "sample", "type": "nominal", "scale": {"domain": ["Isotype","IgG","Anti-CTLA4"], "range": ["#ef3f4a","#f39a3e","#1ec2f2"]}, "legend": {"title": null, "orient": "right", "offset": 17, "symbolType": "M-0.5,-1V1H0.5V-1Z", "symbolSize": 420, "symbolStrokeWidth": 2, "labelFontSize": 16, "labelColor": "#222", "labelFontWeight": "normal", "rowPadding": 7, "labelOffset": 7, "padding": 0}}
       }
      }
     ],
     "spacing": 0, "bounds": "flush",
     "resolve": {"scale": {"color": "independent"}},
     "title": {"text": "d", "anchor": "start", "frame": "group", "dx": -61, "offset": -18, "fontSize": 22, "fontWeight": "bold", "color": "#000"}
    }
   ],
   "spacing": -8,
   "resolve": {"scale": {"color": "independent", "shape": "independent"}}
  },
  {
   "hconcat": [
    {"width": 10, "height": 185, "data": {"values": []}, "mark": "point", "encoding": {}},
    {
     "width": 125, "height": 185,
     "title": {"text": "CD4⁺ T cells", "fontSize": 16, "fontWeight": "normal", "color": "#222", "offset": 0},
     "layer": [
      {
       "data": {"name": "dots"},
       "transform": [
        {"filter": "datum.panel == 'e1'"},
        {"bin": {"step": 250, "anchor": 0}, "field": "value", "as": "vb"},
        {"window": [{"op": "row_number", "as": "r"}], "groupby": ["group", "vb"], "sort": [{"field": "value"}]},
        {"joinaggregate": [{"op": "count", "as": "n"}], "groupby": ["group", "vb"]},
        {"calculate": "datum.r - (datum.n + 1) / 2", "as": "off"}
       ],
       "mark": {"type": "point", "filled": true, "size": 95, "opacity": 1},
       "encoding": {
        "x": {"field": "group", "type": "nominal", "sort": ["IgG","Anti-CTLA4"], "scale": {"domain": ["IgG","Anti-CTLA4"], "paddingInner": 0, "paddingOuter": 0}, "axis": {"title": null, "labelAngle": -45, "labelAlign": "right", "labelBaseline": "top"}},
        "xOffset": {"field": "off", "type": "quantitative", "scale": {"domain": [-2.85, 2.85]}},
        "y": {"field": "value", "type": "quantitative", "scale": {"domain": [0, 5000], "nice": false}, "axis": {"values": [0,1000,2000,3000,4000,5000], "format": "d", "title": "PD-L1 MFI", "labelOverlap": false}},
        "color": {"field": "group", "type": "nominal", "scale": {"domain": ["IgG","Anti-PD1","Anti-CTLA4","Anti-PD1+Anti-CTLA4"], "range": ["#000000","#0a10e8","#f00000","#10c010"]}, "legend": null},
        "shape": {"field": "group", "type": "nominal", "scale": {"domain": ["IgG","Anti-PD1","Anti-CTLA4","Anti-PD1+Anti-CTLA4"], "range": ["circle","triangle-up","square","diamond"]}, "legend": null}
       }
      },
      {"data": {"name": "bars"}, "transform": [{"filter": "datum.panel == 'e1'"}], "mark": {"type": "rule", "color": "#000", "strokeWidth": 1.6}, "encoding": {"x": {"field": "group", "type": "nominal"}, "y": {"field": "lo", "type": "quantitative", "axis": {"values": [0,1000,2000,3000,4000,5000], "format": "d", "title": "PD-L1 MFI", "labelOverlap": false}}, "y2": {"field": "hi"}}},
      {"data": {"name": "bars"}, "transform": [{"filter": "datum.panel == 'e1'"}], "mark": {"type": "tick", "color": "#000", "thickness": 2, "size": 44}, "encoding": {"x": {"field": "group", "type": "nominal"}, "y": {"field": "mean", "type": "quantitative", "axis": {"values": [0,1000,2000,3000,4000,5000], "format": "d", "title": "PD-L1 MFI", "labelOverlap": false}}}},
      {"data": {"name": "bars"}, "transform": [{"filter": "datum.panel == 'e1'"}, {"fold": ["lo", "hi"], "as": ["end", "level"]}], "mark": {"type": "tick", "color": "#000", "thickness": 2, "size": 23}, "encoding": {"x": {"field": "group", "type": "nominal"}, "y": {"field": "level", "type": "quantitative", "axis": {"values": [0,1000,2000,3000,4000,5000], "format": "d", "title": "PD-L1 MFI", "labelOverlap": false}}}},
      {"data": {"values": [{}]}, "mark": {"type": "rule", "color": "#000", "strokeWidth": 1.2}, "encoding": {"x": {"datum": "IgG", "type": "nominal", "bandPosition": 0.37}, "x2": {"datum": "Anti-CTLA4", "bandPosition": 0.5}, "y": {"datum": 4620, "type": "quantitative", "axis": {"values": [0,1000,2000,3000,4000,5000], "format": "d", "title": "PD-L1 MFI", "labelOverlap": false}}}},
      {"data": {"values": [{}]}, "mark": {"type": "text", "text": "**", "fontSize": 12, "color": "#333", "align": "center", "baseline": "middle"}, "encoding": {"x": {"datum": "IgG", "type": "nominal", "bandPosition": 0.9}, "y": {"datum": 4890, "type": "quantitative", "axis": {"values": [0,1000,2000,3000,4000,5000], "format": "d", "title": "PD-L1 MFI", "labelOverlap": false}}}}
     ]
    },
    {"width": 56, "height": 185, "data": {"values": []}, "mark": "point", "encoding": {}},
    {
     "width": 124, "height": 185,
     "title": {"text": "CD8⁺ T cells", "fontSize": 16, "fontWeight": "normal", "color": "#222", "offset": 0},
     "layer": [
      {
       "data": {"name": "dots"},
       "transform": [
        {"filter": "datum.panel == 'e2'"},
        {"bin": {"step": 250, "anchor": 0}, "field": "value", "as": "vb"},
        {"window": [{"op": "row_number", "as": "r"}], "groupby": ["group", "vb"], "sort": [{"field": "value"}]},
        {"joinaggregate": [{"op": "count", "as": "n"}], "groupby": ["group", "vb"]},
        {"calculate": "datum.r - (datum.n + 1) / 2", "as": "off"}
       ],
       "mark": {"type": "point", "filled": true, "size": 95, "opacity": 1},
       "encoding": {
        "x": {"field": "group", "type": "nominal", "sort": ["IgG","Anti-CTLA4"], "scale": {"domain": ["IgG","Anti-CTLA4"], "paddingInner": 0, "paddingOuter": 0}, "axis": {"title": null, "labelAngle": -45, "labelAlign": "right", "labelBaseline": "top"}},
        "xOffset": {"field": "off", "type": "quantitative", "scale": {"domain": [-2.85, 2.85]}},
        "y": {"field": "value", "type": "quantitative", "scale": {"domain": [0, 5000], "nice": false}, "axis": {"values": [0,1000,2000,3000,4000,5000], "format": "d", "title": null, "labelOverlap": false}},
        "color": {"field": "group", "type": "nominal", "scale": {"domain": ["IgG","Anti-PD1","Anti-CTLA4","Anti-PD1+Anti-CTLA4"], "range": ["#000000","#0a10e8","#f00000","#10c010"]}, "legend": null},
        "shape": {"field": "group", "type": "nominal", "scale": {"domain": ["IgG","Anti-PD1","Anti-CTLA4","Anti-PD1+Anti-CTLA4"], "range": ["circle","triangle-up","square","diamond"]}, "legend": null}
       }
      },
      {"data": {"name": "bars"}, "transform": [{"filter": "datum.panel == 'e2'"}], "mark": {"type": "rule", "color": "#000", "strokeWidth": 1.6}, "encoding": {"x": {"field": "group", "type": "nominal"}, "y": {"field": "lo", "type": "quantitative", "axis": {"values": [0,1000,2000,3000,4000,5000], "format": "d", "title": null, "labelOverlap": false}}, "y2": {"field": "hi"}}},
      {"data": {"name": "bars"}, "transform": [{"filter": "datum.panel == 'e2'"}], "mark": {"type": "tick", "color": "#000", "thickness": 2, "size": 44}, "encoding": {"x": {"field": "group", "type": "nominal"}, "y": {"field": "mean", "type": "quantitative", "axis": {"values": [0,1000,2000,3000,4000,5000], "format": "d", "title": null, "labelOverlap": false}}}},
      {"data": {"name": "bars"}, "transform": [{"filter": "datum.panel == 'e2'"}, {"fold": ["lo", "hi"], "as": ["end", "level"]}], "mark": {"type": "tick", "color": "#000", "thickness": 2, "size": 23}, "encoding": {"x": {"field": "group", "type": "nominal"}, "y": {"field": "level", "type": "quantitative", "axis": {"values": [0,1000,2000,3000,4000,5000], "format": "d", "title": null, "labelOverlap": false}}}},
      {"data": {"values": [{}]}, "mark": {"type": "rule", "color": "#000", "strokeWidth": 1.2}, "encoding": {"x": {"datum": "IgG", "type": "nominal", "bandPosition": 0.42}, "x2": {"datum": "Anti-CTLA4", "bandPosition": 0.6}, "y": {"datum": 4760, "type": "quantitative", "axis": {"values": [0,1000,2000,3000,4000,5000], "format": "d", "title": null, "labelOverlap": false}}}},
      {"data": {"values": [{}]}, "mark": {"type": "text", "text": "**", "fontSize": 12, "color": "#333", "align": "center", "baseline": "middle"}, "encoding": {"x": {"datum": "IgG", "type": "nominal", "bandPosition": 0.97}, "y": {"datum": 4990, "type": "quantitative", "axis": {"values": [0,1000,2000,3000,4000,5000], "format": "d", "title": null, "labelOverlap": false}}}}
     ]
    },
    {"width": 56, "height": 185, "data": {"values": []}, "mark": "point", "encoding": {}},
    {
     "width": 134, "height": 185,
     "title": {"text": "CD45.2⁺TCRβ⁻", "fontSize": 16, "fontWeight": "normal", "color": "#222", "offset": 0},
     "layer": [
      {
       "data": {"name": "dots"},
       "transform": [
        {"filter": "datum.panel == 'e3'"},
        {"bin": {"step": 250, "anchor": 0}, "field": "value", "as": "vb"},
        {"window": [{"op": "row_number", "as": "r"}], "groupby": ["group", "vb"], "sort": [{"field": "value"}]},
        {"joinaggregate": [{"op": "count", "as": "n"}], "groupby": ["group", "vb"]},
        {"calculate": "datum.r - (datum.n + 1) / 2", "as": "off"}
       ],
       "mark": {"type": "point", "filled": true, "size": 95, "opacity": 1},
       "encoding": {
        "x": {"field": "group", "type": "nominal", "sort": ["IgG","Anti-CTLA4"], "scale": {"domain": ["IgG","Anti-CTLA4"], "paddingInner": 0, "paddingOuter": 0}, "axis": {"title": null, "labelAngle": -45, "labelAlign": "right", "labelBaseline": "top"}},
        "xOffset": {"field": "off", "type": "quantitative", "scale": {"domain": [-3.1, 3.1]}},
        "y": {"field": "value", "type": "quantitative", "scale": {"domain": [0, 5000], "nice": false}, "axis": {"values": [0,1000,2000,3000,4000,5000], "format": "d", "title": null, "labelOverlap": false}},
        "color": {"field": "group", "type": "nominal", "scale": {"domain": ["IgG","Anti-PD1","Anti-CTLA4","Anti-PD1+Anti-CTLA4"], "range": ["#000000","#0a10e8","#f00000","#10c010"]}, "legend": null},
        "shape": {"field": "group", "type": "nominal", "scale": {"domain": ["IgG","Anti-PD1","Anti-CTLA4","Anti-PD1+Anti-CTLA4"], "range": ["circle","triangle-up","square","diamond"]}, "legend": null}
       }
      },
      {"data": {"name": "bars"}, "transform": [{"filter": "datum.panel == 'e3'"}], "mark": {"type": "rule", "color": "#000", "strokeWidth": 1.6}, "encoding": {"x": {"field": "group", "type": "nominal"}, "y": {"field": "lo", "type": "quantitative", "axis": {"values": [0,1000,2000,3000,4000,5000], "format": "d", "title": null, "labelOverlap": false}}, "y2": {"field": "hi"}}},
      {"data": {"name": "bars"}, "transform": [{"filter": "datum.panel == 'e3'"}], "mark": {"type": "tick", "color": "#000", "thickness": 2, "size": 44}, "encoding": {"x": {"field": "group", "type": "nominal"}, "y": {"field": "mean", "type": "quantitative", "axis": {"values": [0,1000,2000,3000,4000,5000], "format": "d", "title": null, "labelOverlap": false}}}},
      {"data": {"name": "bars"}, "transform": [{"filter": "datum.panel == 'e3'"}, {"fold": ["lo", "hi"], "as": ["end", "level"]}], "mark": {"type": "tick", "color": "#000", "thickness": 2, "size": 23}, "encoding": {"x": {"field": "group", "type": "nominal"}, "y": {"field": "level", "type": "quantitative", "axis": {"values": [0,1000,2000,3000,4000,5000], "format": "d", "title": null, "labelOverlap": false}}}},
      {"data": {"values": [{}]}, "mark": {"type": "rule", "color": "#000", "strokeWidth": 1.2}, "encoding": {"x": {"datum": "IgG", "type": "nominal", "bandPosition": 0.46}, "x2": {"datum": "Anti-CTLA4", "bandPosition": 0.55}, "y": {"datum": 4780, "type": "quantitative", "axis": {"values": [0,1000,2000,3000,4000,5000], "format": "d", "title": null, "labelOverlap": false}}}},
      {"data": {"values": [{}]}, "mark": {"type": "text", "text": "**", "fontSize": 12, "color": "#333", "align": "center", "baseline": "middle"}, "encoding": {"x": {"datum": "IgG", "type": "nominal", "bandPosition": 0.96}, "y": {"datum": 5050, "type": "quantitative", "axis": {"values": [0,1000,2000,3000,4000,5000], "format": "d", "title": null, "labelOverlap": false}}}}
     ]
    }
   ],
   "spacing": 0, "bounds": "flush",
   "title": {"text": "e", "anchor": "start", "frame": "group", "dx": -62, "offset": -9, "fontSize": 22, "fontWeight": "bold", "color": "#000"}
  }
 ],
 "spacing": -1,
 "resolve": {"scale": {"color": "independent", "shape": "independent"}},
 "config": {
  "font": "Liberation Sans",
  "view": {"stroke": null},
  "axis": {"grid": false, "domainColor": "#000", "domainWidth": 2, "tickColor": "#000", "tickWidth": 2, "tickSize": 5, "labelFont": "Liberation Sans", "labelFontWeight": "bold", "labelFontSize": 15, "labelColor": "#000", "titleFont": "Liberation Sans", "titleFontWeight": "normal", "titleFontSize": 17, "titleColor": "#333", "labelPadding": 2},
  "title": {"font": "Liberation Sans"},
  "legend": {"labelFont": "Liberation Sans"}
 }
}
